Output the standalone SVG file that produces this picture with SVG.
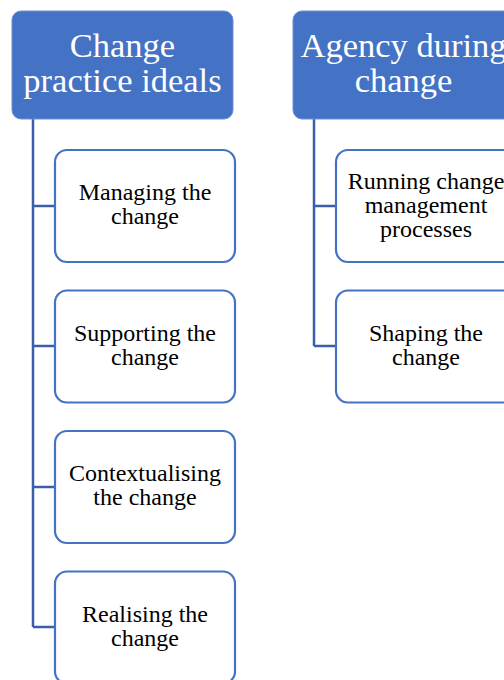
<svg xmlns="http://www.w3.org/2000/svg" width="504" height="680" viewBox="0 0 504 680">
  <style>
    .head { fill: #4472c4; stroke: #6f8fd0; stroke-width: 1; }
    .head-text { font-family: "Liberation Serif", "Times New Roman", serif; font-size: 34.5px; fill: #ffffff; text-anchor: middle; }
    .item { fill: #ffffff; stroke: #4472c4; stroke-width: 2.2; }
    .item-text { font-family: "Liberation Serif", "Times New Roman", serif; font-size: 24px; fill: #000000; text-anchor: middle; }
    .link { fill: none; stroke: #3a5fa8; stroke-width: 2.5; }
  </style>

  <!-- connectors: vertical spines with branches to each item -->
  <g id="connectors">
    <path class="link" d="M33,119 V627 M33,206 H55 M33,346 H55 M33,487 H55 M33,627 H55"/>
    <path class="link" d="M314,119 V346 M314,206 H336 M314,346 H336"/>
  </g>

  <!-- column 1 -->
  <g id="change-practice-ideals">
    <rect class="head" x="12" y="11" width="221" height="108" rx="9"/>
    <text class="head-text" x="122.5" y="57">Change</text>
    <text class="head-text" x="122.5" y="92">practice ideals</text>
  </g>
  <g id="managing">
    <rect class="item" x="55" y="150" width="180" height="112" rx="12"/>
    <text class="item-text" x="145" y="200">Managing the</text>
    <text class="item-text" x="145" y="224">change</text>
  </g>
  <g id="supporting">
    <rect class="item" x="55" y="290.5" width="180" height="112" rx="12"/>
    <text class="item-text" x="145" y="340.5">Supporting the</text>
    <text class="item-text" x="145" y="364.5">change</text>
  </g>
  <g id="contextualising">
    <rect class="item" x="55" y="431" width="180" height="112" rx="12"/>
    <text class="item-text" x="145" y="481">Contextualising</text>
    <text class="item-text" x="145" y="505">the change</text>
  </g>
  <g id="realising">
    <rect class="item" x="55" y="571.5" width="180" height="112" rx="12"/>
    <text class="item-text" x="145" y="621.5">Realising the</text>
    <text class="item-text" x="145" y="645.5">change</text>
  </g>

  <!-- column 2 -->
  <g id="agency-during-change">
    <rect class="head" x="293" y="11" width="221" height="108" rx="9"/>
    <text class="head-text" x="403.5" y="57">Agency during</text>
    <text class="head-text" x="403.5" y="92">change</text>
  </g>
  <g id="running">
    <rect class="item" x="336" y="150" width="180" height="112" rx="12"/>
    <text class="item-text" x="426" y="189">Running change</text>
    <text class="item-text" x="426" y="213">management</text>
    <text class="item-text" x="426" y="237">processes</text>
  </g>
  <g id="shaping">
    <rect class="item" x="336" y="290.5" width="180" height="112" rx="12"/>
    <text class="item-text" x="426" y="340.5">Shaping the</text>
    <text class="item-text" x="426" y="364.5">change</text>
  </g>
</svg>
